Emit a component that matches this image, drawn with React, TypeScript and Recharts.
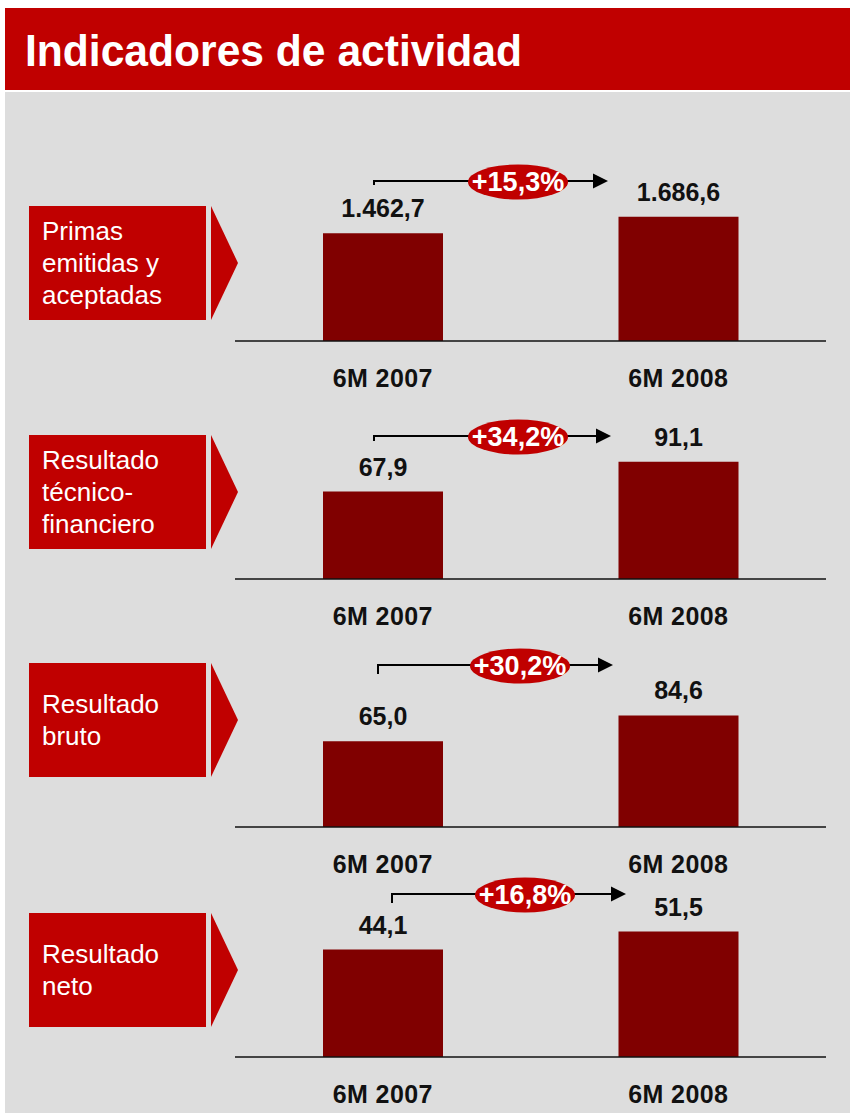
import { BarChart, Bar, XAxis, YAxis, LabelList } from 'recharts';

const categories = ['6M 2007', '6M 2008'];
const primas = [1462.7, 1686.6];
const tecnico = [67.9, 91.1];
const bruto = [65.0, 84.6];
const neto = [44.1, 51.5];
const panelLabels = [
  ['Primas', 'emitidas y', 'aceptadas'],
  ['Resultado', 'técnico-', 'financiero'],
  ['Resultado', 'bruto'],
  ['Resultado', 'neto'],
];
const axisMax = [2170, 124.2, 121.3, 65.7];

// layout of each panel (page pixels)
const axisY = [341, 579, 827, 1057];
const boxTop = [206, 435, 663, 913];
const arrowY = [181, 436, 665, 894];
const arrowStartX = [374, 374, 378, 392];
const arrowEndX = [608, 611, 613, 626];
const bubbleX = [518, 518, 520, 525];
const tickLen = [4, 5, 9, 9];

const FONT = '"Liberation Sans", Arial, Helvetica, sans-serif';
const RED = '#c00000';
const BAR = '#800000';
const PLOT_H = 160;
const TOP_M = 60;

const series = [primas, tecnico, bruto, neto];

function fmt(v: number) {
  const [i, d] = v.toFixed(1).split('.');
  return i.replace(/\B(?=(\d{3})+(?!\d))/g, '.') + ',' + d;
}

function growth(vals: number[]) {
  const g = (vals[1] / vals[0] - 1) * 100;
  return '+' + g.toFixed(1).replace('.', ',') + '%';
}

function CatTick(props: any) {
  const { x, y, payload } = props;
  return (
    <text x={x} y={y + 46} textAnchor="middle" fill="#111" fontSize={25} fontWeight="bold" fontFamily={FONT} letterSpacing={0.4}>
      {payload.value}
    </text>
  );
}

function ValueLabel(props: any) {
  const { x, y, width, value } = props;
  return (
    <text x={Number(x) + Number(width) / 2} y={Number(y) - 16} textAnchor="middle" fill="#111" fontSize={25} fontWeight="bold" fontFamily={FONT}>
      {fmt(Number(value))}
    </text>
  );
}

function Panel({ idx }: { idx: number }) {
  const rows = categories.map((c, i) => ({ cat: c, v: series[idx][i] }));
  return (
    <div style={{ position: 'absolute', left: 0, top: axisY[idx] - PLOT_H - TOP_M }}>
      <BarChart width={852} height={270} data={rows} margin={{ top: TOP_M, right: 26, bottom: 0, left: 235 }}>
        <XAxis
          dataKey="cat"
          height={50}
          tickSize={0}
          tickMargin={0}
          tickLine={false}
          axisLine={{ stroke: '#111', strokeWidth: 1.5 }}
          tick={<CatTick />}
        />
        <YAxis hide domain={[0, axisMax[idx]]} />
        <Bar dataKey="v" fill={BAR} barSize={120} isAnimationActive={false}>
          <LabelList dataKey="v" content={<ValueLabel />} />
        </Bar>
      </BarChart>
    </div>
  );
}

export default function App() {
  return (
    <div style={{ position: 'absolute', left: 0, top: 0, width: 852, height: 1113, overflow: 'hidden', background: '#fff' }}>
      <svg width={852} height={1113} style={{ position: 'absolute', left: 0, top: 0 }}>
        <rect x={5} y={8} width={845} height={82} fill={RED} />
        <rect x={5} y={92} width={845} height={1021} fill="#dddddd" />
        <text x={25} y={66} fill="#fff" fontSize={45} fontWeight="bold" fontFamily={FONT} textLength={497} lengthAdjust="spacingAndGlyphs">
          Indicadores de actividad
        </text>
        {panelLabels.map((lines, i) => {
          const t = boxTop[i];
          const mid = t + 57;
          return (
            <g key={i}>
              <rect x={29} y={t} width={177} height={114} fill={RED} />
              <polygon points={`211,${t} 238,${mid} 211,${t + 114}`} fill={RED} />
              {lines.map((ln, j) => (
                <text key={j} x={42} y={mid + (j - (lines.length - 1) / 2) * 32 + 9} fill="#fff" fontSize={26} fontFamily={FONT}>
                  {ln}
                </text>
              ))}
            </g>
          );
        })}
      </svg>
      {series.map((_, i) => (
        <Panel key={i} idx={i} />
      ))}
      <svg width={852} height={1113} style={{ position: 'absolute', left: 0, top: 0, pointerEvents: 'none' }}>
        {series.map((vals, i) => {
          const ly = arrowY[i];
          const end = arrowEndX[i];
          return (
            <g key={i}>
              <path d={`M${arrowStartX[i]} ${ly + tickLen[i]} V${ly} H${end - 14}`} stroke="#000" strokeWidth={2} fill="none" />
              <polygon points={`${end - 15},${ly - 7.5} ${end},${ly} ${end - 15},${ly + 7.5}`} fill="#000" />
              <ellipse cx={bubbleX[i]} cy={ly + 1} rx={50} ry={17.5} fill={RED} />
              <text x={bubbleX[i]} y={ly + 10} textAnchor="middle" fill="#fff" fontSize={27} fontWeight="bold" fontFamily={FONT}>
                {growth(vals)}
              </text>
            </g>
          );
        })}
      </svg>
    </div>
  );
}
